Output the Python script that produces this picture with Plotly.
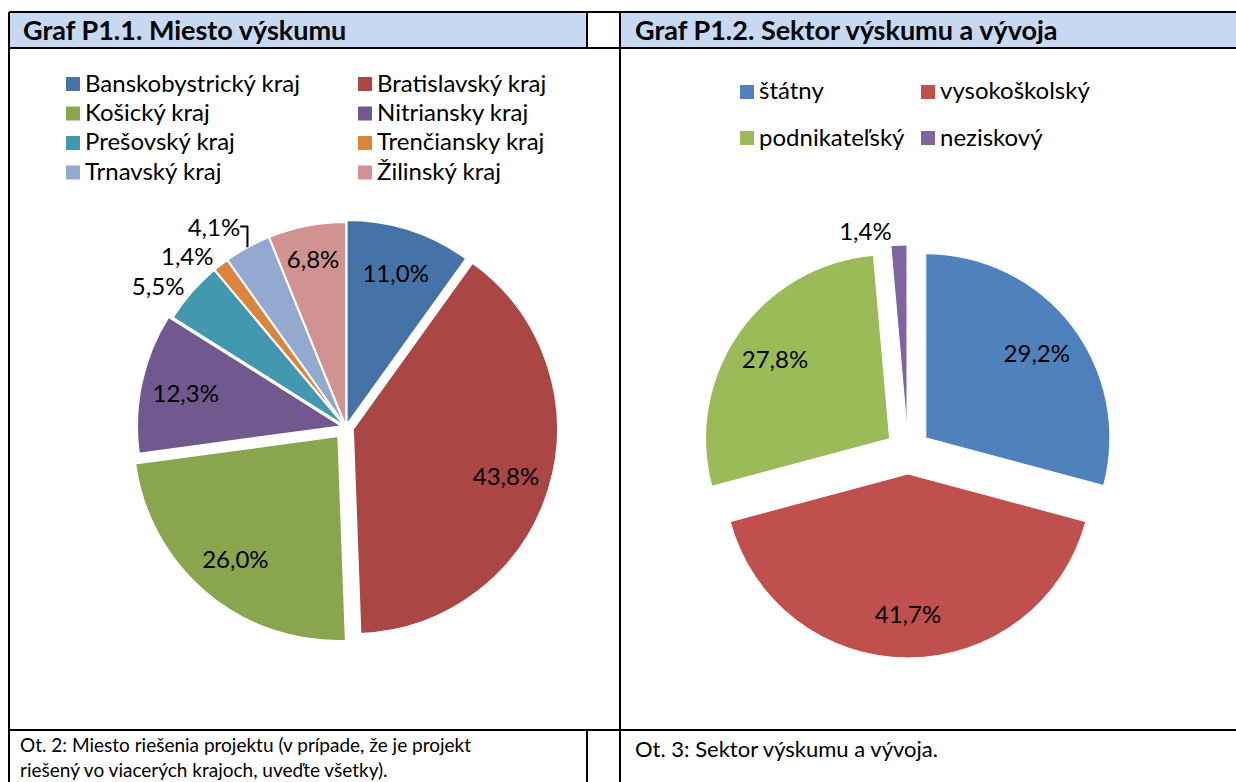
import plotly.graph_objects as go

# Coordinates below are window pixels; the page's default body margin is removed
# after plotting, so the figure fills the 1236x782 window exactly.
W, H = 1236, 782

# ---------------- data ----------------
regions = ["Banskobystrický kraj", "Bratislavský kraj", "Košický kraj", "Nitriansky kraj",
           "Prešovský kraj", "Trenčiansky kraj", "Trnavský kraj", "Žilinský kraj"]
region_pct = [11.0, 43.8, 26.0, 12.3, 5.5, 1.4, 4.1, 6.8]
region_colors = ["#4572A7", "#AA4643", "#89A54E", "#71588F",
                 "#4198AF", "#DB843D", "#93A9CF", "#D19392"]

sectors = ["štátny", "vysokoškolský", "podnikateľský", "neziskový"]
sector_pct = [29.2, 41.7, 27.8, 1.4]
sector_colors = ["#4F81BD", "#C0504D", "#9BBB59", "#8064A2"]

title_left = "Graf P1.1. Miesto výskumu"
title_right = "Graf P1.2. Sektor výskumu a vývoja"
note_left = ["Ot. 2: Miesto riešenia projektu (v prípade, že je projekt",
             "riešený vo viacerých krajoch, uveďte všetky)."]
note_right = "Ot. 3: Sektor výskumu a vývoja."

# ---------------- styling ----------------
FONT = "Lato, 'Open Sans', sans-serif"
region_pull = [0.01, 0.035, 0.058, 0.02, 0, 0, 0, 0]
region_textpos = ["inside", "inside", "inside", "inside", "outside", "outside", "outside", "inside"]
sector_pull = [0.122] * 4
sector_textpos = ["inside", "inside", "inside", "outside"]
LABEL_SIZE = 24


def px(x):
    return x / W


def py(y):
    return 1 - y / H


fig = go.Figure()

dom1 = dict(x=[px(129.1), px(562.9)], y=[py(643.9), py(210.1)])
dom2 = dict(x=[px(701.5), px(1114.5)], y=[py(658), py(245)])

CLEAR = ["rgba(0,0,0,0)"] * len(regions)

# pie 1: coloured slices
fig.add_trace(go.Pie(
    labels=regions, values=region_pct, sort=False, direction="clockwise", rotation=0,
    marker=dict(colors=region_colors, line=dict(color="white", width=2)),
    pull=region_pull, textinfo="none", domain=dom1,
    showlegend=False, hoverinfo="skip",
))
# pie 1: data labels (transparent ring layer, which places labels towards the rim)
fig.add_trace(go.Pie(
    labels=regions, values=region_pct, sort=False, direction="clockwise", rotation=0,
    marker=dict(colors=CLEAR, line=dict(width=0)),
    pull=region_pull, hole=0.56, textposition=region_textpos, texttemplate="%{value:.1f}%",
    insidetextorientation="horizontal",
    textfont=dict(size=LABEL_SIZE, color="black", family=FONT),
    domain=dom1, showlegend=False, hoverinfo="skip",
))

# pie 2
fig.add_trace(go.Pie(
    labels=sectors, values=sector_pct, sort=False, direction="clockwise", rotation=0,
    marker=dict(colors=sector_colors, line=dict(color="white", width=1)),
    pull=sector_pull, textinfo="none", domain=dom2,
    showlegend=False, hoverinfo="skip",
))
fig.add_trace(go.Pie(
    labels=sectors, values=sector_pct, sort=False, direction="clockwise", rotation=0,
    marker=dict(colors=CLEAR[:len(sectors)], line=dict(width=0)),
    pull=sector_pull, hole=0.52, textposition=sector_textpos, texttemplate="%{value:.1f}%",
    insidetextorientation="horizontal",
    textfont=dict(size=LABEL_SIZE, color="black", family=FONT),
    domain=dom2, showlegend=False, hoverinfo="skip",
))

shapes = []
annotations = []

# header backgrounds
for x0, x1 in [(9, 586), (621, 1236)]:
    shapes.append(dict(type="rect", xref="paper", yref="paper", x0=px(x0), x1=px(x1),
                       y0=py(47), y1=py(13), fillcolor="#C6D9F1", line=dict(width=0), layer="below"))

# table lines
LW = 2
hlines = [(12, 9, 1236), (48, 9, 1236), (730, 9, 1236)]
vlines = [(9, 12, 782), (620, 12, 782), (587, 12, 48), (587, 730, 782)]
for y, x0, x1 in hlines:
    shapes.append(dict(type="line", xref="paper", yref="paper", x0=px(x0), x1=px(x1),
                       y0=py(y), y1=py(y), line=dict(color="black", width=LW)))
for x, y0, y1 in vlines:
    shapes.append(dict(type="line", xref="paper", yref="paper", x0=px(x), x1=px(x),
                       y0=py(y0), y1=py(y1), line=dict(color="black", width=LW)))

# titles
for txt, x in [(title_left, 21), (title_right, 633)]:
    annotations.append(dict(text="<b>%s</b>" % txt, x=px(x), y=py(30), xref="paper", yref="paper",
                            xanchor="left", yanchor="middle", showarrow=False,
                            font=dict(size=27, color="black", family=FONT)))


# legends (laid out in a grid of columns and rows)
def legend(labels, colors, col_x, row_y, size):
    ncol = len(col_x)
    for i, (lab, col) in enumerate(zip(labels, colors)):
        cx = col_x[i % ncol]
        cy = row_y[i // ncol]
        shapes.append(dict(type="rect", xref="paper", yref="paper",
                           x0=px(cx), x1=px(cx + 14), y0=py(cy + 7), y1=py(cy - 7),
                           fillcolor=col, line=dict(width=0)))
        annotations.append(dict(text=lab, x=px(cx + 17), y=py(cy - 2), xref="paper", yref="paper",
                                xanchor="left", yanchor="middle", showarrow=False,
                                font=dict(size=size, color="black", family=FONT)))


legend(regions, region_colors, [66, 358], [84, 113.5, 143, 172.5], 24)
legend(sectors, sector_colors, [740, 921], [92, 138], 24)

# notes
annotations.append(dict(text="<br>".join(note_left), x=px(18), y=py(731), xref="paper", yref="paper",
                        xanchor="left", yanchor="top", align="left", showarrow=False,
                        font=dict(size=19, color="black", family=FONT)))
annotations.append(dict(text=note_right, x=px(633), y=py(748), xref="paper", yref="paper",
                        xanchor="left", yanchor="middle", showarrow=False,
                        font=dict(size=22, color="black", family=FONT)))

fig.update_layout(
    width=W, height=H, margin=dict(l=0, r=0, t=0, b=0),
    paper_bgcolor="white", plot_bgcolor="white",
    separators=", ", showlegend=False,
    font=dict(family=FONT, color="black"),
    shapes=shapes, annotations=annotations,
)

fig.write_html("out.html", config={"displayModeBar": False},
               post_script="document.body.style.margin='0px';document.body.style.overflow='hidden';")
